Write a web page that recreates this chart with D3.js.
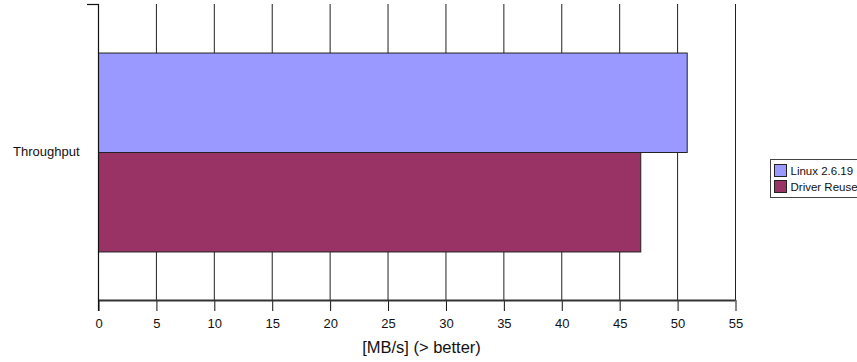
<!DOCTYPE html>
<html>
<head>
<meta charset="utf-8">
<script src="https://cdn.jsdelivr.net/npm/d3@7"></script>
<style>
  body { margin: 0; background: #fff; }
  svg { display: block; font-family: "Liberation Sans", Arial, sans-serif; }
</style>
</head>
<body>
<svg id="chart" width="857" height="362"></svg>
<script>
// Throughput comparison data
const categories = ["Throughput"];
const seriesNames = ["Linux 2.6.19", "Driver Reuse"];
const seriesColors = ["#9999ff", "#993366"];
const linuxValues = [50.83];
const reuseValues = [46.82];
const xTicks = [0, 5, 10, 15, 20, 25, 30, 35, 40, 45, 50, 55];
const xTitle = "[MB/s] (> better)";

(function () {
  const svg = d3.select("#chart");
  const plotLeft = 98, plotRight = 735, plotTop = 4, plotBottom = 300;

  const x = d3.scaleLinear().domain([0, 55]).range([plotLeft, plotRight]);
  const y = d3.scaleBand().domain(categories).range([plotTop, plotBottom]).paddingInner(0).paddingOuter(0.244);
  const ySeries = d3.scaleBand().domain(seriesNames).range([0, y.bandwidth()]);

  // vertical gridlines
  svg.append("g").selectAll("line").data(xTicks.slice(1)).join("line")
    .attr("x1", d => x(d) + 0.5).attr("x2", d => x(d) + 0.5)
    .attr("y1", plotTop).attr("y2", plotBottom)
    .attr("stroke", "#222").attr("stroke-width", 1);

  // bars
  const series = [linuxValues, reuseValues];
  categories.forEach((c, ci) => {
    svg.append("g").selectAll("rect").data(seriesNames).join("rect")
      .attr("x", x(0) + 0.5)
      .attr("y", d => y(c) + ySeries(d) + 0.5)
      .attr("width", (d, i) => x(series[i][ci]) - x(0))
      .attr("height", ySeries.bandwidth())
      .attr("fill", (d, i) => seriesColors[i])
      .attr("stroke", "#222").attr("stroke-width", 1);
  });

  // bottom axis
  const xAxis = d3.axisBottom(x).tickValues(xTicks).tickSize(11).tickPadding(8).tickFormat(d3.format("d"));
  const ax = svg.append("g").attr("transform", `translate(0.5,${plotBottom})`).call(xAxis);
  ax.select(".domain").remove();
  ax.selectAll(".tick line").attr("stroke", "#111");
  ax.selectAll(".tick text").attr("font-size", 13).attr("fill", "#111")
    .attr("font-family", "Liberation Sans, Arial, sans-serif");
  svg.append("line").attr("x1", plotLeft).attr("x2", plotRight + 0.5)
    .attr("y1", plotBottom + 0.5).attr("y2", plotBottom + 0.5)
    .attr("stroke", "#333").attr("stroke-width", 2);

  // left axis
  const yAxis = d3.axisLeft(y).tickSize(0).tickPadding(19);
  const ay = svg.append("g").attr("transform", `translate(${plotLeft + 0.5},0)`).call(yAxis);
  ay.select(".domain").remove();
  ay.selectAll(".tick text").attr("font-size", 13).attr("fill", "#111")
    .attr("font-family", "Liberation Sans, Arial, sans-serif");
  svg.append("line").attr("x1", plotLeft + 0.5).attr("x2", plotLeft + 0.5)
    .attr("y1", plotTop).attr("y2", plotBottom + 11)
    .attr("stroke", "#111").attr("stroke-width", 1.2);
  svg.append("line").attr("x1", plotLeft - 11).attr("x2", plotLeft + 0.5)
    .attr("y1", plotTop + 0.5).attr("y2", plotTop + 0.5)
    .attr("stroke", "#111").attr("stroke-width", 1.2);

  // axis title
  svg.append("text").attr("x", (plotLeft + plotRight) / 2 + 5).attr("y", 353)
    .attr("text-anchor", "middle").attr("font-size", 16.5).attr("fill", "#111").text(xTitle);

  // legend
  const lg = svg.append("g").attr("transform", "translate(770.5,159.5)");
  lg.append("rect").attr("width", 95).attr("height", 38).attr("fill", "#fff").attr("stroke", "#444");
  seriesNames.forEach((s, i) => {
    lg.append("rect").attr("x", 4).attr("y", 5 + i * 16).attr("width", 12).attr("height", 12)
      .attr("fill", seriesColors[i]).attr("stroke", "#222");
    lg.append("text").attr("x", 20).attr("y", 15 + i * 16).attr("font-size", 11.5).attr("fill", "#111").text(s);
  });
})();
</script>
</body>
</html>
